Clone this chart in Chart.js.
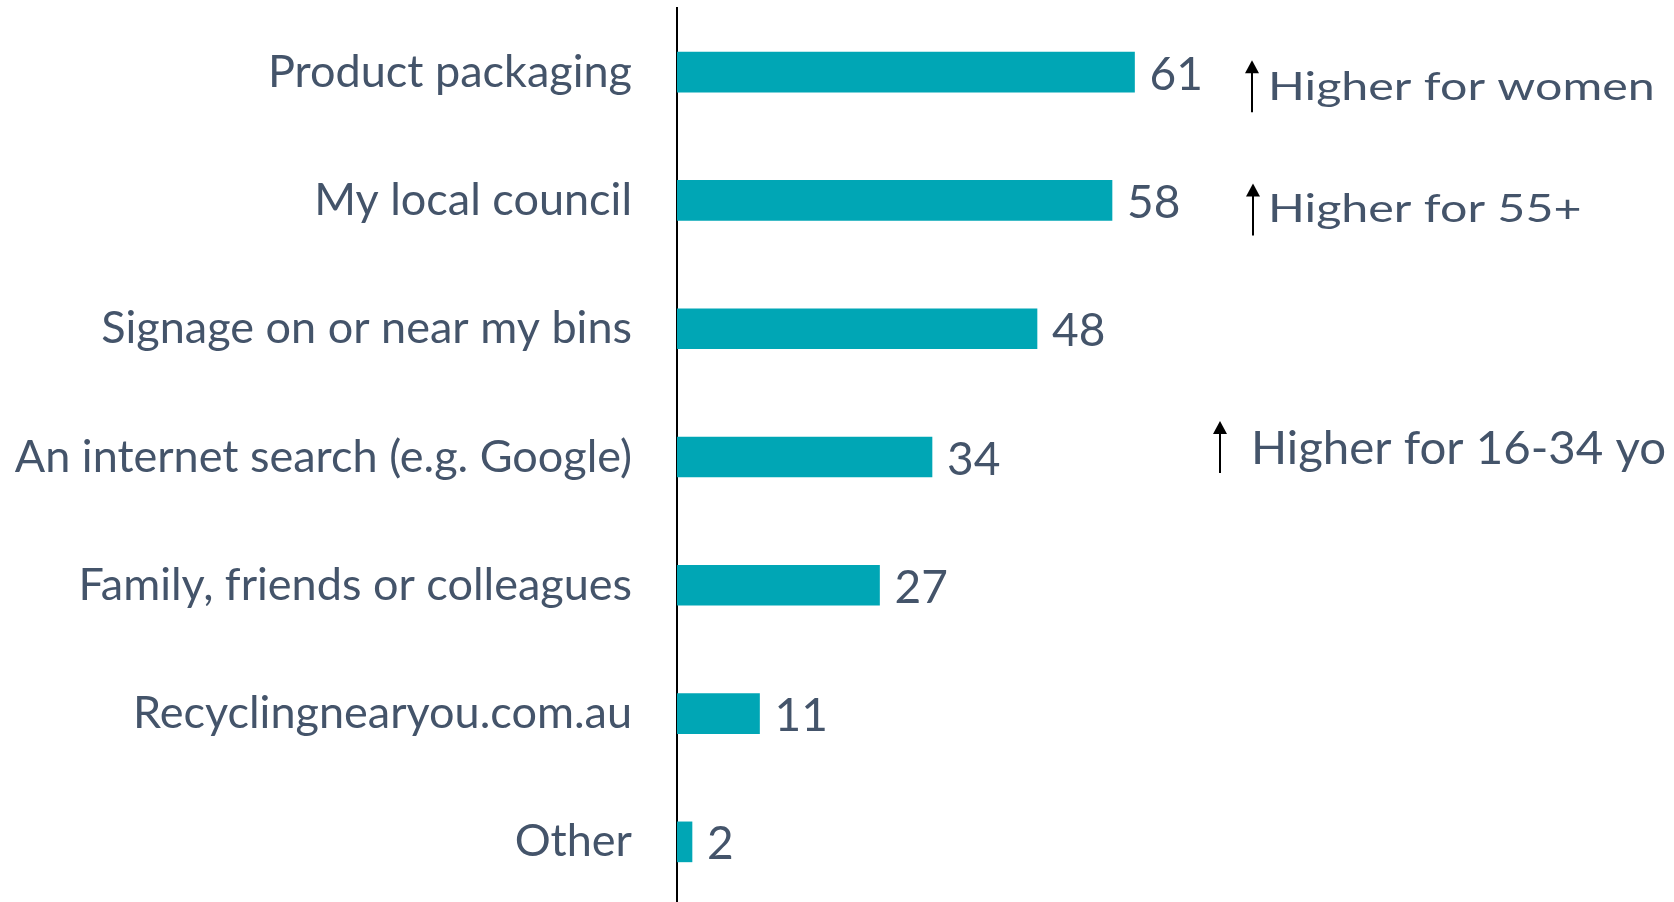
<!DOCTYPE html>
<html><head><meta charset="utf-8">
<script src="https://cdn.jsdelivr.net/npm/chart.js@4"></script>
<style>html,body{margin:0;padding:0;overflow:hidden;background:#fff}#wrap{width:1674px;height:906px;position:relative}</style>
</head><body><div id="wrap"><canvas id="c"></canvas></div>
<script>
const categories = ['Product packaging','My local council','Signage on or near my bins','An internet search (e.g. Google)','Family, friends or colleagues','Recyclingnearyou.com.au','Other'];
const values = [61, 58, 48, 34, 27, 11, 2];
const noteCategoryIndex = [0, 1, 3];
const noteTexts = ['Higher for women', 'Higher for 55+', 'Higher for 16-34 yo'];

// layout / style for annotations (pixel offsets relative to category centre)
const noteLayout = [
  {arrowX: 1252, arrowTop: -12, arrowBottom: 40, textX: 1268, baseline: 28, size: 39, sx: 1.24},
  {arrowX: 1253, arrowTop: -17, arrowBottom: 35, textX: 1268, baseline: 22, size: 39, sx: 1.24},
  {arrowX: 1220, arrowTop: -36, arrowBottom: 16, textX: 1251, baseline: 7, size: 46, sx: 1.03}
];
const TEXT = '#44546A';
const FONT = 'Lato, "Open Sans", sans-serif';

const valueLabels = {
  id: 'valueLabels',
  afterDatasetsDraw(chart) {
    const ctx = chart.ctx;
    const meta = chart.getDatasetMeta(0);
    ctx.save();
    ctx.fillStyle = TEXT;
    ctx.font = '46px ' + FONT;
    ctx.textAlign = 'left';
    ctx.textBaseline = 'alphabetic';
    meta.data.forEach((bar, i) => {
      ctx.fillText(String(values[i]), bar.x + 15, bar.y + 17.5);
    });
    // annotations
    const ys = chart.scales.y;
    noteCategoryIndex.forEach((ci, k) => {
      const L = noteLayout[k];
      const cy = ys.getPixelForValue(ci);
      const top = cy + L.arrowTop, bot = cy + L.arrowBottom;
      ctx.strokeStyle = '#000';
      ctx.fillStyle = '#000';
      ctx.lineWidth = 2;
      ctx.beginPath();
      ctx.moveTo(L.arrowX, top + 10);
      ctx.lineTo(L.arrowX, bot);
      ctx.stroke();
      ctx.beginPath();
      ctx.moveTo(L.arrowX, top);
      ctx.lineTo(L.arrowX - 7, top + 13);
      ctx.lineTo(L.arrowX + 7, top + 13);
      ctx.closePath();
      ctx.fill();
      ctx.save();
      ctx.fillStyle = TEXT;
      ctx.font = L.size + 'px ' + FONT;
      ctx.translate(L.textX, cy + L.baseline);
      ctx.scale(L.sx, 1);
      ctx.fillText(noteTexts[k], 0, 0);
      ctx.restore();
    });
    ctx.restore();
  }
};

new Chart(document.getElementById('c'), {
  type: 'bar',
  data: {
    labels: categories,
    datasets: [{data: values, backgroundColor: '#00A6B5', barThickness: 40, borderWidth: 0}]
  },
  options: {
    indexAxis: 'y',
    responsive: true,
    maintainAspectRatio: false,
    animation: false,
    layout: {padding: {top: 8, right: 22, bottom: 0, left: 0}},
    plugins: {legend: {display: false}, tooltip: {enabled: false}},
    scales: {
      x: {display: false, min: 0, max: 130},
      y: {
        grid: {display: false, drawTicks: false},
        border: {display: true, color: '#000', width: 2},
        ticks: {color: TEXT, font: {family: FONT, size: 45}, padding: 45},
        afterFit: s => { s.width = 677; s.paddingTop = 0; s.paddingBottom = 0; }
      }
    }
  },
  plugins: [valueLabels]
});
</script></body></html>
